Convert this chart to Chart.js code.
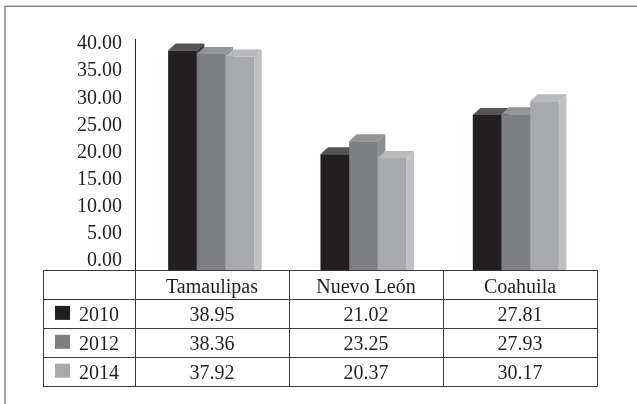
<!DOCTYPE html>
<html>
<head>
<meta charset="utf-8">
<title>2010–2014</title>
<style>
  html, body { margin: 0; padding: 0; background: #ffffff; }
  #wrap { position: relative; width: 637px; height: 404px; }
</style>
<script src="https://cdn.jsdelivr.net/npm/chart.js@4.4.1/dist/chart.umd.min.js"></script>
</head>
<body>
<div id="wrap"><canvas id="c" width="637" height="404"></canvas></div>
<script>
// Values per state and year
const categories = ['Tamaulipas', 'Nuevo León', 'Coahuila'];
const years = ['2010', '2012', '2014'];
const values2010 = [38.95, 21.02, 27.81];
const values2012 = [38.36, 23.25, 27.93];
const values2014 = [37.92, 20.37, 30.17];
const yTickValues = [0, 5, 10, 15, 20, 25, 30, 35, 40];

// Styling
const ink = '#231f20';
const serif = "'Liberation Serif', 'Times New Roman', serif";
const frontColors = ['#231f20', '#7e7f82', '#a8a9ac'];
const topColors = ['#545456', '#949598', '#b8b9bc'];
const sideColors = ['#3b393a', '#8c8d90', '#bfc0c3'];
const depth = { dx: 7.5, dy: 7 };

// Oblique top and side faces behind each bar front
const faces3d = {
  id: 'faces3d',
  beforeDatasetsDraw(chart) {
    const ctx = chart.ctx;
    const { dx, dy } = depth;
    ctx.save();
    for (let c = 0; c < chart.data.labels.length; c++) {
      chart.data.datasets.forEach((ds, d) => {
        const el = chart.getDatasetMeta(d).data[c];
        const { x, y, base, width } = el.getProps(['x', 'y', 'base', 'width'], true);
        const l = x - width / 2, r = x + width / 2;
        ctx.fillStyle = sideColors[d];
        ctx.beginPath();
        ctx.moveTo(r, y); ctx.lineTo(r + dx, y - dy);
        ctx.lineTo(r + dx, base - dy); ctx.lineTo(r, base);
        ctx.closePath(); ctx.fill();
        ctx.fillStyle = topColors[d];
        ctx.beginPath();
        ctx.moveTo(l, y); ctx.lineTo(l + dx, y - dy);
        ctx.lineTo(r + dx, y - dy); ctx.lineTo(r, y);
        ctx.closePath(); ctx.fill();
      });
    }
    ctx.restore();
  }
};

// Page frame and the data table under the plot
const frameAndTable = {
  id: 'frameAndTable',
  beforeDraw(chart) {
    const ctx = chart.ctx;
    ctx.save();
    ctx.fillStyle = '#ffffff';
    ctx.fillRect(0, 0, chart.width, chart.height);
    ctx.strokeStyle = '#8c8c8c';
    ctx.lineWidth = 1.5;
    ctx.beginPath();
    ctx.moveTo(5, chart.height); ctx.lineTo(5, 6.25); ctx.lineTo(chart.width, 6.25);
    ctx.stroke();
    ctx.restore();
  },
  afterDraw(chart) {
    const ctx = chart.ctx;
    const area = chart.chartArea;
    const top = 270, rowH = 28.9;
    const left = 43, axisX = area.left, right = area.right + 5;
    const colW = (right - axisX) / categories.length;
    const rows = years.length + 1;
    const bottom = top + rows * rowH;
    const series = chart.data.datasets;

    ctx.save();
    ctx.fillStyle = '#ffffff';
    ctx.fillRect(left, top, right - left, bottom - top + 2);

    // grid lines
    ctx.strokeStyle = '#3a3a3a';
    ctx.lineWidth = 1;
    ctx.beginPath();
    for (let r = 0; r <= rows; r++) {
      const y = Math.round(top + r * rowH) + 0.5;
      ctx.moveTo(left, y); ctx.lineTo(right, y);
    }
    const xs = [left, axisX];
    for (let c = 1; c <= categories.length; c++) xs.push(axisX + c * colW);
    xs.forEach(x => {
      const px = Math.round(x) + 0.5;
      ctx.moveTo(px, top); ctx.lineTo(px, Math.round(bottom) + 0.5);
    });
    ctx.stroke();

    // texts
    ctx.fillStyle = ink;
    ctx.font = '20px ' + serif;
    ctx.textBaseline = 'alphabetic';
    ctx.textAlign = 'center';
    categories.forEach((name, c) => {
      ctx.fillText(name, axisX + (c + 0.5) * colW, top + 22.5);
    });
    series.forEach((ds, d) => {
      const rowTop = top + (d + 1) * rowH;
      // legend key
      ctx.fillStyle = frontColors[d];
      ctx.fillRect(55, rowTop + 7, 15, 14);
      ctx.fillStyle = ink;
      ctx.textAlign = 'left';
      ctx.fillText(ds.label, 79, rowTop + 22.5);
      ctx.textAlign = 'center';
      ds.data.forEach((v, c) => {
        ctx.fillText(v.toFixed(2), axisX + (c + 0.5) * colW, rowTop + 22.5);
      });
    });
    ctx.restore();
  }
};

const seriesValues = [values2010, values2012, values2014];

new Chart(document.getElementById('c'), {
  type: 'bar',
  data: {
    labels: categories,
    datasets: years.map((yr, i) => ({
      label: yr,
      data: seriesValues[i],
      backgroundColor: frontColors[i],
      borderWidth: 0,
      yAxisID: 'y'
    }))
  },
  options: {
    responsive: false,
    animation: false,
    events: [],
    devicePixelRatio: 1,
    layout: { padding: { left: 55, right: 45, top: 39, bottom: 128 } },
    plugins: { legend: { display: false }, tooltip: { enabled: false }, title: { display: false } },
    datasets: { bar: { categoryPercentage: 0.565, barPercentage: 1.0 } },
    scales: {
      x: { display: false },
      y: { display: false, min: 0, max: 40.93 },
      yLabels: {
        position: 'left',
        min: -2.76,
        max: 40.92,
        grid: { display: false, drawTicks: false },
        border: { display: true, color: ink, width: 1 },
        afterBuildTicks: s => { s.ticks = yTickValues.map(v => ({ value: v })); },
        afterFit: s => { s.width = 80; s.paddingTop = 0; s.paddingBottom = 0; },
        ticks: {
          padding: 13,
          color: ink,
          font: { family: serif, size: 20 },
          callback: v => Number(v).toFixed(2)
        }
      }
    }
  },
  plugins: [faces3d, frameAndTable]
});
</script>
</body>
</html>
